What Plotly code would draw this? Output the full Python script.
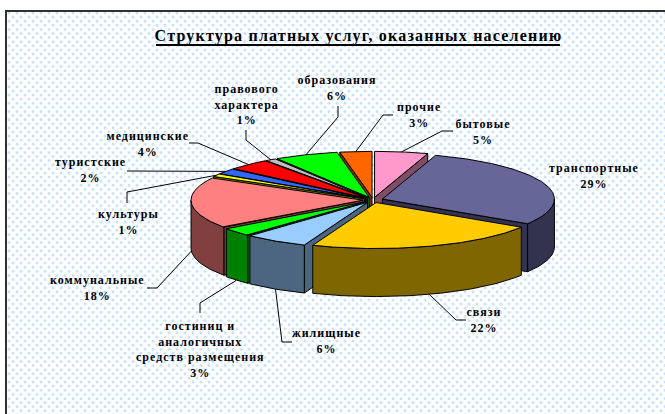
import numpy as np
import plotly.graph_objects as go

# ---- data ----
categories = ["бытовые", "транспортные", "связи", "жилищные",
              "гостиниц и<br>аналогичных<br>средств размещения", "коммунальные",
              "культуры", "туристские", "медицинские",
              "правового<br>характера", "образования", "прочие"]
values = [5, 29, 22, 6, 3, 18, 1, 2, 4, 1, 6, 3]
title_text = "Структура платных услуг, оказанных населению"

# ---- styling ----
top_colors = ["#FF99CC", "#666699", "#FFCC00", "#99CCFF", "#00FF00", "#FF8080",
              "#FFFF00", "#3366FF", "#FF0000", "#C0C0C0", "#00FF00", "#FF6600"]
side_colors = ["#804D66", "#333350", "#806600", "#4D6680", "#008000", "#804040",
               "#808000", "#1A3380", "#800000", "#606060", "#008000", "#803300"]
label_xy = [(483, 132), (594, 176), (484, 320), (327, 341), (200, 349), (97, 288),
            (128, 222), (91, 170), (148, 144), (246, 104), (337, 88), (419, 115)]
leader_elbows = [[(442, 131), (453, 131)], None, [(456, 320), (466, 320)],
                 [(282, 342), (292, 342)], [(200, 303), (200, 313)], [(157, 288), (147, 288)],
                 [(127, 192), (127, 203)], [(127, 171)], [(198, 143), (189, 143)],
                 [(246, 140), (246, 130)], [(338, 117), (338, 106)], [(383, 115), (393, 115)]]
CX, CY, RX, RY, DEPTH, PULL = 373, 200, 172, 46, 48, 10
W, H = 665, 414
FONT = "Liberation Serif"

fig = go.Figure()

# dotted panel texture
gx, gy = [], []
for i, y in enumerate(np.arange(13, H + 4, 4.1)):
    xs = np.arange(9 + (i % 2) * 4, W + 4, 8)
    gx.extend(xs.tolist())
    gy.extend([float(y)] * len(xs))
fig.add_trace(go.Scatter(x=gx, y=gy, mode="markers", hoverinfo="skip", showlegend=False,
                         marker=dict(size=3, color="#C6E2FF", line_width=0)))

# slices
total = sum(values)
edges = np.concatenate([[0], np.cumsum(values)]) / total * 360


def project(theta_deg, r, ox, oy, z=0.0):
    t = np.radians(theta_deg)
    return ox + r * RX * np.sin(t), oy - r * RY * np.cos(t) + z


def poly(xs, ys, fill):
    fig.add_trace(go.Scatter(x=list(xs) + [xs[0]], y=list(ys) + [ys[0]], mode="lines", fill="toself",
                             fillcolor=fill, hoverinfo="skip", showlegend=False,
                             line=dict(color="black", width=1)))


mids = (edges[:-1] + edges[1:]) / 2
offsets = []
for m in mids:
    ox, oy = project(m, PULL / RX, CX, CY)
    offsets.append((ox, CY - (PULL / RX) * RY * np.cos(np.radians(m))))

for i in sorted(range(len(values)), key=lambda k: -np.cos(np.radians(mids[k]))):
    a, b = edges[i], edges[i + 1]
    ox, oy = offsets[i]
    # radial walls facing the viewer
    for ang, visible in ((a, np.sin(np.radians(a)) < -1e-6), (b, np.sin(np.radians(b)) > 1e-6)):
        if visible:
            px, py = project(ang, 1, ox, oy)
            poly([ox, px, px, ox], [oy, py, py + DEPTH, oy + DEPTH], side_colors[i])
    # outer rim in front
    lo, hi = max(a, 90), min(b, 270)
    if hi > lo:
        th = np.linspace(lo, hi, int(hi - lo) + 2)
        px, py = project(th, 1, ox, oy)
        poly(np.r_[px, px[::-1]], np.r_[py, py[::-1] + DEPTH], side_colors[i])
    # top face
    th = np.linspace(a, b, int(b - a) * 2 + 3)
    px, py = project(th, 1, ox, oy)
    poly(np.r_[ox, px], np.r_[oy, py], top_colors[i])

# leader lines: start on the slice, then to the label
for i, elbow in enumerate(leader_elbows):
    if not elbow:
        continue
    ox, oy = offsets[i]
    sx, sy = project(mids[i], 1, ox, oy)
    if np.cos(np.radians(mids[i])) < 0.05:
        sy += DEPTH
    xs = [sx] + [p[0] for p in elbow]
    ys = [sy] + [p[1] for p in elbow]
    fig.add_trace(go.Scatter(x=xs, y=ys, mode="lines", hoverinfo="skip", showlegend=False,
                             line=dict(color="black", width=1)))

# labels
for name, v, (lx, ly) in zip(categories, values, label_xy):
    fig.add_annotation(x=lx, y=ly, text=f"<b>{name}<br>{v}%</b>", showarrow=False,
                       font=dict(family=FONT, size=12, color="black"), align="center",
                       xanchor="center", yanchor="middle")

fig.add_annotation(x=358, y=36, text=f"<b>{title_text}</b>", showarrow=False,
                   font=dict(family=FONT, size=16, color="black"),
                   xanchor="center", yanchor="middle")

# title underline and panel border
shapes = [
    dict(type="line", x0=156, x1=560, y0=45, y1=45, line=dict(color="black", width=2)),
    dict(type="line", x0=6, x1=6, y0=10, y1=H, line=dict(color="#303030", width=2)),
    dict(type="line", x0=5, x1=W, y0=11, y1=11, line=dict(color="#303030", width=2)),
]
fig.update_layout(width=W, height=H, margin=dict(l=0, r=0, t=0, b=0),
                  paper_bgcolor="white", plot_bgcolor="white", shapes=shapes, showlegend=False,
                  xaxis=dict(range=[0, W], visible=False, fixedrange=True),
                  yaxis=dict(range=[H, 0], visible=False, fixedrange=True))

page_js = """
document.body.style.margin = '0';
document.documentElement.style.overflow = 'hidden';
document.querySelectorAll('.annotation-text').forEach(function(t){
  var big = t.textContent.indexOf('Структура') === 0;
  t.style.letterSpacing = big ? '1.2px' : '1px';
});
"""
fig.write_html("out.html", post_script=page_js, config={"displayModeBar": False})
